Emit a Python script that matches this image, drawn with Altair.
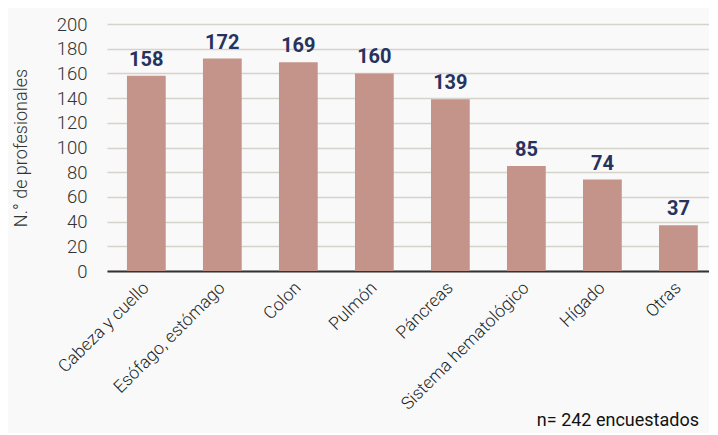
import altair as alt
import pandas as pd

categories = ["Cabeza y cuello", "Esófago, estómago", "Colon", "Pulmón", "Páncreas",
              "Sistema hematológico", "Hígado", "Otras"]
values = [158, 172, 169, 160, 139, 85, 74, 37]
y_ticks = list(range(0, 201, 20))
footnote = "n= 242 encuestados"

df = pd.DataFrame({"cat": categories, "val": values})

W, H = 602, 247
FONT = "Roboto"

x = alt.X("cat:N", sort=categories, title=None,
          scale=alt.Scale(paddingInner=0.49, paddingOuter=0.205, align=0.64),
          axis=alt.Axis(labelAngle=-45, labelAlign="right", labelBaseline="middle",
                        labelFontSize=17.5, labelColor="#222", labelFont=FONT,
                        labelPadding=14, ticks=False, domain=True, domainColor="#333",
                        domainWidth=1.8, labelFontWeight=300, labelOverlap=False,
                        labelBound=False))
y = alt.Y("val:Q", title="N.° de profesionales",
          scale=alt.Scale(domain=[0, 200], nice=False),
          axis=alt.Axis(values=y_ticks, tickCount=11, grid=True, gridColor="#d6d3ca",
                        gridWidth=1.5, domain=False, ticks=False, labelFontSize=18.5,
                        labelColor="#333", labelFont=FONT, labelPadding=20,
                        titleFont=FONT, titleFontSize=18, titleColor="#333",
                        titleFontWeight=300, titlePadding=26, labelFontWeight=300,
                        labelOverlap=False, labelBound=False))

base = alt.Chart(df).encode(x=x, y=y)
bars = base.mark_bar(color="#c4938a")
labels = base.mark_text(dy=-16, fontSize=20, fontWeight="bold",
                        color="#27325e", font=FONT).encode(text="val:Q")
note = alt.Chart(pd.DataFrame({"t": [footnote]})).mark_text(
    align="right", baseline="alphabetic", fontSize=18, color="#111", font=FONT,
    fontWeight=400).encode(
    x=alt.value(W - 10), y=alt.value(H + 155), text="t:N")

chart = alt.layer(bars, labels, note).properties(
    width=W, height=H,
    background="#f9f9f9",
    padding={"left": 99, "top": 16, "right": 0, "bottom": 162},
    autosize=alt.AutoSizeParams(type="none"),
).configure_view(stroke=None)

chart.save("out.html", embed_options={"renderer": "svg", "actions": False})
